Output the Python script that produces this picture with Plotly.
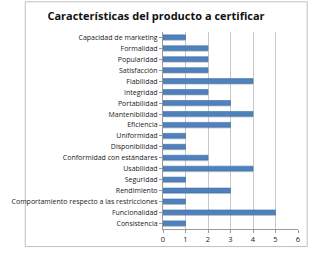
import plotly.graph_objects as go

categories = ["Capacidad de marketing", "Formalidad", "Popularidad", "Satisfacción",
              "Fiabilidad", "Integridad", "Portabilidad", "Mantenibilidad", "Eficiencia",
              "Uniformidad", "Disponibilidad", "Conformidad con estándares", "Usabilidad",
              "Seguridad", "Rendimiento", "Comportamiento respecto a las restricciones",
              "Funcionalidad", "Consistencia"]
values = [1, 2, 2, 2, 4, 2, 3, 4, 3, 1, 1, 2, 4, 1, 3, 1, 5, 1]
x_ticks = [0, 1, 2, 3, 4, 5, 6]

W, H = 312, 256
L, R, T, B = 152, 13, 32, 22
pw, ph = W - L - R, H - T - B

def px(x):
    return (x - L) / pw

def py(y):
    return (H - B - y) / ph

fig = go.Figure()
# shadow
fig.add_trace(go.Bar(
    y=categories, x=values, orientation="h",
    marker=dict(color="rgba(120,120,120,0.35)", line=dict(width=0)),
    width=0.48, offset=-0.17, hoverinfo="skip", showlegend=False,
))
fig.add_trace(go.Bar(
    y=categories, x=values, orientation="h",
    marker=dict(color="#4F81BD", line=dict(color="#3C6EAA", width=0.6)),
    width=0.44, offset=-0.24, showlegend=False,
))
fig.update_layout(
    width=W, height=H, barmode="overlay",
    margin=dict(l=L, r=R, t=T, b=B),
    paper_bgcolor="white", plot_bgcolor="white",
    font=dict(family="Open Sans", size=7, color="#1a1a1a"),
    title=dict(text="<b>Características del producto a certificar</b>",
               x=0.5, xref="container", xanchor="center", y=1 - 16 / H, yanchor="middle",
               font=dict(family="Open Sans", size=11, color="#111")),
    xaxis=dict(range=[0, 6], tickvals=x_ticks, showgrid=True, gridcolor="#c8c8c8",
               gridwidth=1, zeroline=False, showline=True, linecolor="#9a9a9a",
               ticks="outside", ticklen=3, tickcolor="#9a9a9a",
               tickfont=dict(size=7.5, color="#1a1a1a"), fixedrange=True),
    yaxis=dict(autorange="reversed", showline=True, linecolor="#9a9a9a",
               ticks="outside", ticklen=3, tickcolor="#9a9a9a", showgrid=False,
               tickfont=dict(size=7, color="#1a1a1a"), fixedrange=True),
    shapes=[dict(type="rect", xref="paper", yref="paper",
                 x0=px(2), x1=px(309), y0=py(252), y1=py(1),
                 line=dict(color="#c0c0c0", width=1), layer="below")],
)
fig.write_html("out.html")
